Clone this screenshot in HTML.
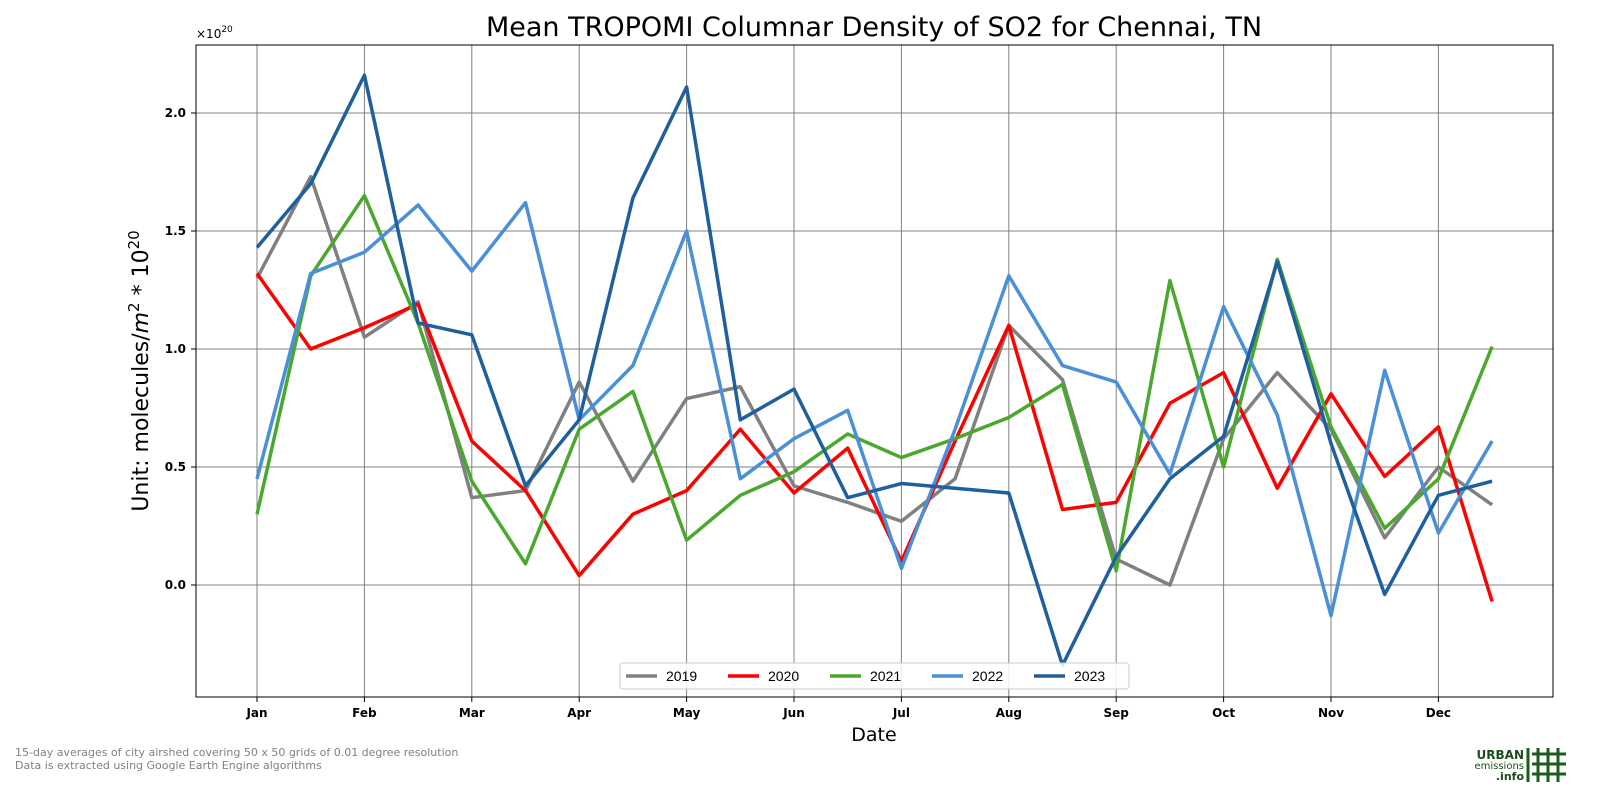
<!DOCTYPE html>
<html><head><meta charset="utf-8"><style>
body{margin:0;background:#fff;font-family:"Liberation Sans","DejaVu Sans",sans-serif}
svg text{font-family:"DejaVu Sans","Liberation Sans",sans-serif}
</style></head><body>
<svg id="chart" width="1600" height="800" viewBox="0 0 1600 800">
<rect width="1600" height="800" fill="#fff"/>
<g id="grid"></g>
<g id="lines"></g>
<rect x="196" y="45" width="1357" height="652" fill="none" stroke="#000" stroke-width="1"/>
<g id="ticks"></g>
<text x="874" y="36" font-size="27" text-anchor="middle">Mean TROPOMI Columnar Density of SO2 for Chennai, TN</text>
<text x="196" y="38" font-size="12">×10<tspan dy="-6" font-size="9">20</tspan></text>
<text x="874" y="741" font-size="19" text-anchor="middle">Date</text>
<text transform="translate(148,371) rotate(-90)" font-size="22" text-anchor="middle">Unit: molecules/<tspan font-style="italic">m</tspan><tspan dy="-9" font-size="15">2</tspan><tspan dy="9"> * 10</tspan><tspan dy="-9" font-size="15">20</tspan></text>
<g id="legend"></g>
<text x="15" y="756" font-size="11" fill="#808080">15-day averages of city airshed covering 50 x 50 grids of 0.01 degree resolution</text>
<text x="15" y="769" font-size="11" fill="#808080">Data is extracted using Google Earth Engine algorithms</text>
<g>
<text x="1524" y="759" font-size="12" font-weight="bold" fill="#1a4d1a" text-anchor="end">URBAN</text>
<text x="1524" y="769" font-size="10" fill="#1a4d1a" text-anchor="end">emissions</text>
<text x="1524" y="780" font-size="11" font-weight="bold" fill="#1a4d1a" text-anchor="end">.info</text>
<g stroke="#1a5c1a" stroke-width="3">
<line x1="1528" y1="748" x2="1528" y2="782"/><line x1="1538" y1="748" x2="1538" y2="782"/><line x1="1548" y1="748" x2="1548" y2="782"/><line x1="1558" y1="748" x2="1558" y2="782"/>
<line x1="1532" y1="754" x2="1566" y2="754"/><line x1="1532" y1="764" x2="1566" y2="764"/><line x1="1532" y1="774" x2="1566" y2="774"/>
</g></g>
</svg>
<script>
const months=["Jan","Feb","Mar","Apr","May","Jun","Jul","Aug","Sep","Oct","Nov","Dec"];
const yTicks=[0.0,0.5,1.0,1.5,2.0];
const years=["2019","2020","2021","2022","2023"];
const colors=["#808080","#ff0000","#4ba82e","#4a90d9","#1f5f9e"];
const s2019=[1.30,1.73,1.05,1.20,0.37,0.40,0.86,0.44,0.79,0.84,0.42,0.35,0.27,0.45,1.10,0.87,0.11,0.00,0.62,0.90,0.66,0.20,0.50,0.34];
const s2020=[1.32,1.00,1.09,1.19,0.61,0.40,0.04,0.30,0.40,0.66,0.39,0.58,0.10,0.61,1.10,0.32,0.35,0.77,0.90,0.41,0.81,0.46,0.67,-0.07];
const s2021=[0.30,1.31,1.65,1.11,0.44,0.09,0.66,0.82,0.19,0.38,0.48,0.64,0.54,0.62,0.71,0.85,0.06,1.29,0.50,1.38,0.67,0.24,0.45,1.01];
const s2022=[0.45,1.32,1.41,1.61,1.33,1.62,0.70,0.93,1.50,0.45,0.62,0.74,0.07,0.66,1.31,0.93,0.86,0.47,1.18,0.72,-0.13,0.91,0.22,0.61];
const s2023=[1.43,1.70,2.16,1.11,1.06,0.42,0.70,1.64,2.11,0.70,0.83,0.37,0.43,0.41,0.39,-0.34,0.12,0.45,0.63,1.37,0.60,-0.04,0.38,0.44];
const series=[s2019,s2020,s2021,s2022,s2023];
const NS="http://www.w3.org/2000/svg";
const X=i=>257+i*53.7;
const Y=v=>585-v*236;
function mk(t,a,p){const e=document.createElementNS(NS,t);for(const k in a)e.setAttribute(k,a[k]);p.appendChild(e);return e;}
const grid=document.getElementById('grid'),ticks=document.getElementById('ticks');
months.forEach((m,i)=>{
 const x=X(i*2);
 const g=mk('line',{x1:x,x2:x,y1:45,y2:697,stroke:'#808080','stroke-width':1},grid);
 
 
 mk('line',{x1:x,x2:x,y1:697,y2:702,stroke:'#000'},ticks);
 const t=mk('text',{x:x,y:717,'font-size':12,'font-weight':'bold','text-anchor':'middle'},ticks);
 t.textContent=m;
 
 
});
yTicks.forEach(v=>{
 const y=Y(v);
 const g=mk('line',{x1:196,x2:1553,y1:y,y2:y,stroke:'#808080','stroke-width':1},grid);
 
 
 mk('line',{x1:191,x2:196,y1:y,y2:y,stroke:'#000'},ticks);
 const t=mk('text',{x:186,y:y+4,'font-size':12,'font-weight':'bold','text-anchor':'end'},ticks);
 t.textContent=v.toFixed(1);
 
 
});
const lines=document.getElementById('lines');
series.forEach((s,k)=>{
 const p=mk('polyline',{points:s.map((v,i)=>X(i)+','+Y(v)).join(' '),fill:'none',stroke:colors[k],'stroke-width':3.5,'stroke-linejoin':'round'},lines);
 
 
});
const lg=document.getElementById('legend');
mk('rect',{x:620,y:663,width:509,height:26,rx:3,fill:'#fff','fill-opacity':0.85,stroke:'#ccc'},lg);
years.forEach((yr,k)=>{
 const x0=626+k*102;
 const e=mk('g',{},lg);
 
 
 mk('line',{x1:x0,x2:x0+31,y1:676,y2:676,stroke:colors[k],'stroke-width':3.5},e);
 const t=mk('text',{x:x0+40,y:681,'font-size':14,style:'font-family:"Liberation Sans",sans-serif'},e);t.textContent=yr;
});
</script>
</body></html>
